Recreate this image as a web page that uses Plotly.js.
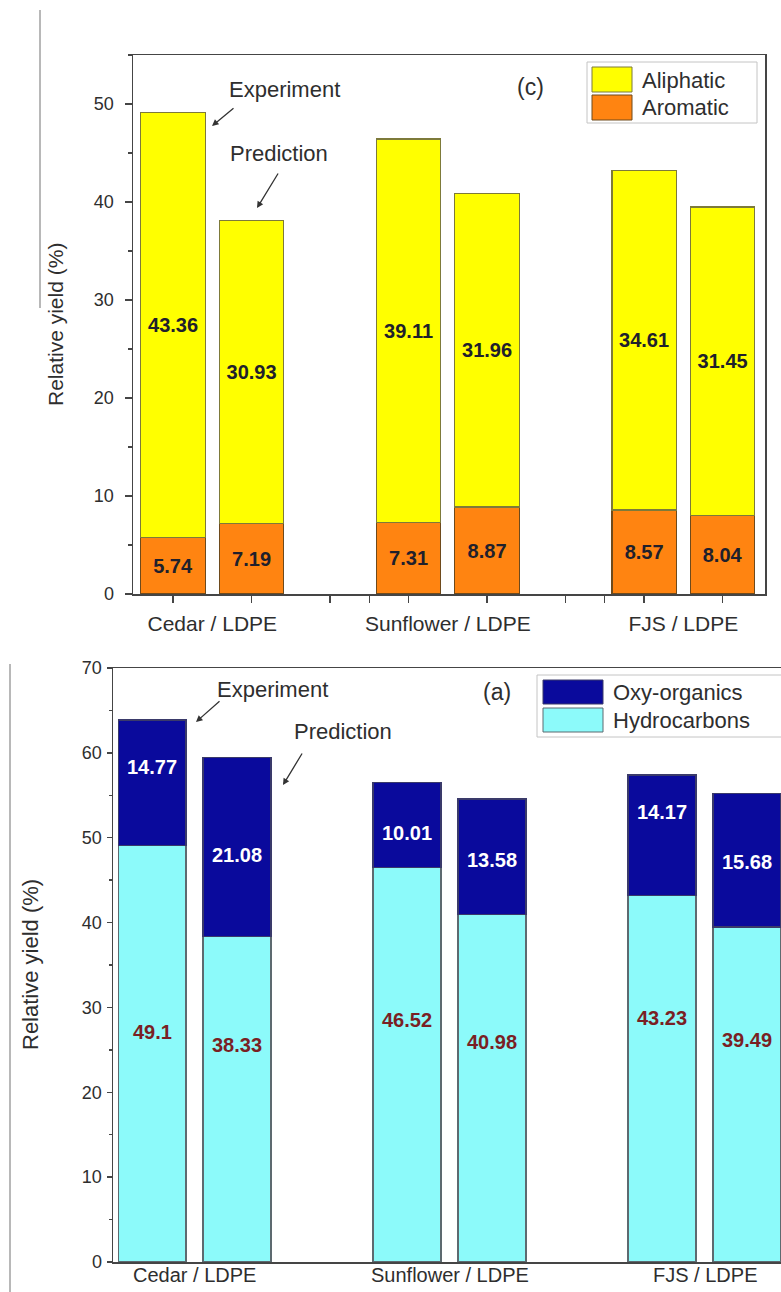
<!DOCTYPE html>
<html>
<head>
<meta charset="utf-8">
<script src="https://cdn.plot.ly/plotly-3.0.1.min.js"></script>
<style>
html,body{margin:0;padding:0;overflow:hidden;background:#fff;width:781px;height:1292px;}
#chart{width:800px;height:1292px;}
</style>
</head>
<body>
<div id="chart"></div>
<script>
// ---------- data ----------
const categories = ['Cedar / LDPE', 'Sunflower / LDPE', 'FJS / LDPE'];
// panel (c)
const aromaticExp   = [5.74, 7.31, 8.57];
const aromaticPred  = [7.19, 8.87, 8.04];
const aliphaticExp  = [43.36, 39.11, 34.61];
const aliphaticPred = [30.93, 31.96, 31.45];
// panel (a)
const hydroExp  = [49.1, 46.52, 43.23];
const hydroPred = [38.33, 40.98, 39.49];
const oxyExp    = [14.77, 10.01, 14.17];
const oxyPred   = [21.08, 13.58, 15.68];
const yTicksTop = [0, 10, 20, 30, 40, 50];
const yTicksBottom = [0, 10, 20, 30, 40, 50, 60, 70];

// ---------- helpers ----------
const W = 800, H = 1292;
const fx = p => p / W;
const fy = p => 1 - p / H;
const FONT = 'Liberation Sans, Arial, sans-serif';
const TXT = '#2e2e2e';

// experiment / prediction slots per category
const xPos = [];
categories.forEach((c, i) => { xPos.push(3 * i + 1, 3 * i + 2); });
const pair = (a, b) => { const out = []; a.forEach((v, i) => { out.push(v, b[i]); }); return out; };

const arom = pair(aromaticExp, aromaticPred);
const alip = pair(aliphaticExp, aliphaticPred);
const hydro = pair(hydroExp, hydroPred);
const oxy = pair(oxyExp, oxyPred);

const topLabelFont = {family: FONT, size: 20, color: '#20202c', weight: 'bold'};

const traces = [
  {type: 'bar', x: xPos, y: arom, width: 0.82, xaxis: 'x', yaxis: 'y',
   marker: {color: '#ff8411', line: {color: '#6e4a1c', width: 1.2}},
   text: arom.map(String), textposition: 'inside', insidetextanchor: 'middle',
   constraintext: 'none', textangle: 0, textfont: topLabelFont, hoverinfo: 'skip', showlegend: false},
  {type: 'bar', x: xPos, y: alip, width: 0.82, xaxis: 'x', yaxis: 'y',
   marker: {color: '#ffff00', line: {color: '#7d7a3a', width: 1.2}},
   text: alip.map(String), textposition: 'inside', insidetextanchor: 'middle',
   constraintext: 'none', textangle: 0, textfont: topLabelFont, hoverinfo: 'skip', showlegend: false},
  {type: 'bar', x: xPos, y: hydro, width: 0.8, xaxis: 'x2', yaxis: 'y2',
   marker: {color: '#8cfafa', line: {color: '#5d6a70', width: 1.2}},
   hoverinfo: 'skip', showlegend: false},
  {type: 'bar', x: xPos, y: oxy, width: 0.8, xaxis: 'x2', yaxis: 'y2',
   marker: {color: '#0a0a9c', line: {color: '#3a3a6a', width: 1.2}},
   hoverinfo: 'skip', showlegend: false}
];

// label placement for panel (a) (in axis units)
const hydroLabelY = [27.1, 25.6, 28.5, 25.9, 28.8, 26.2];
const oxyLabelY   = [58.3, 48.0, 50.6, 47.4, 53.0, 47.1];

const annotations = [];
hydro.forEach((v, i) => annotations.push({xref: 'x2', yref: 'y2', x: xPos[i], y: hydroLabelY[i],
  xanchor: 'center', yanchor: 'middle',
  text: String(v), showarrow: false, font: {family: FONT, size: 20, color: '#7a1f24', weight: 'bold'}}));
oxy.forEach((v, i) => annotations.push({xref: 'x2', yref: 'y2', x: xPos[i], y: oxyLabelY[i],
  xanchor: 'center', yanchor: 'middle',
  text: String(v), showarrow: false, font: {family: FONT, size: 20, color: '#ffffff', weight: 'bold'}}));

const txt = (t, px, py, size, extra) => Object.assign({xref: 'paper', yref: 'paper', x: fx(px), y: fy(py),
  xanchor: 'center', yanchor: 'middle',
  text: t, showarrow: false, font: {family: FONT, size: size, color: TXT}}, extra || {});
const arrow = (hx, hy, tx, ty) => ({xref: 'paper', yref: 'paper', x: fx(hx), y: fy(hy),
  axref: 'pixel', ayref: 'pixel', ax: tx - hx, ay: ty - hy, text: '', showarrow: true,
  arrowhead: 2, arrowsize: 1, arrowwidth: 1.3, arrowcolor: '#333'});

// panel (c) texts
annotations.push(txt('Experiment', 284, 89, 22));
annotations.push(txt('Prediction', 279, 153, 22));
annotations.push(txt('(c)', 530, 87, 23));
annotations.push(arrow(212, 126, 235, 107));
annotations.push(arrow(257, 208, 279, 172));
annotations.push(txt('Aliphatic', 640, 80, 22, {xanchor: 'left'}));
annotations.push(txt('Aromatic', 640, 108, 22, {xanchor: 'left'}));
annotations.push(txt('Relative yield (%)', 55, 325, 21, {textangle: -90}));
// panel (a) texts
annotations.push(txt('Experiment', 272, 690, 22));
annotations.push(txt('Prediction', 343, 731, 22));
annotations.push(txt('(a)', 497, 692, 23));
annotations.push(arrow(196, 722, 221, 700));
annotations.push(arrow(283, 785, 303, 752));
annotations.push(txt('Oxy-organics', 611, 692, 22, {xanchor: 'left'}));
annotations.push(txt('Hydrocarbons', 611, 720, 22, {xanchor: 'left'}));
annotations.push(txt('Relative yield (%)', 30, 965, 22, {textangle: -90}));
// category labels of panel (a), placed just above the page edge
categories.forEach((c, i) => annotations.push({xref: 'x2', yref: 'paper', x: 3 * i + 1.5, y: fy(1288),
  xanchor: 'center', yanchor: 'bottom', text: c, showarrow: false,
  font: {family: FONT, size: 20, color: TXT}}));

const rect = (x0, y0, x1, y1, fill, line) => ({type: 'rect', xref: 'paper', yref: 'paper',
  x0: fx(x0), x1: fx(x1), y0: fy(y1), y1: fy(y0), fillcolor: fill, line: {color: line, width: 1}});
const shapes = [
  rect(587, 62, 757, 123, 'rgba(0,0,0,0)', '#c4c4c4'),
  rect(592, 67, 632, 92, '#ffff00', '#7d7a3a'),
  rect(592, 95, 632, 120, '#ff8411', '#6e4a1c'),
  rect(537, 675, 805, 737, 'rgba(0,0,0,0)', '#c4c4c4'),
  rect(543, 680, 603, 704, '#0a0a9c', '#3a3a6a'),
  rect(543, 708, 603, 732, '#8cfafa', '#5d6a70'),
  {type: 'line', xref: 'paper', yref: 'paper', x0: fx(40), x1: fx(40), y0: fy(10), y1: fy(308), line: {color: '#a0a0a0', width: 1.5}},
  {type: 'line', xref: 'paper', yref: 'paper', x0: fx(10), x1: fx(10), y0: fy(664), y1: fy(1292), line: {color: '#a0a0a0', width: 1.5}}
];

const axisBase = {showline: true, linecolor: '#454545', linewidth: 1.5, mirror: true, showgrid: false, zeroline: false,
  tickfont: {family: FONT, size: 18, color: TXT}, fixedrange: true};

const layout = {
  width: W, height: H, margin: {l: 0, r: 0, t: 0, b: 0},
  paper_bgcolor: '#fff', plot_bgcolor: '#fff', barmode: 'stack', showlegend: false,
  font: {family: FONT},
  xaxis: Object.assign({}, axisBase, {domain: [fx(133), fx(765)], range: [0.49, 8.54], anchor: 'y',
    tickmode: 'array', tickvals: [1.5, 4.5, 7.5], ticktext: categories, ticks: '', ticklabelstandoff: 10,
    tickfont: {family: FONT, size: 21, color: TXT},
    minor: {tickmode: 'array', tickvals: [1, 2, 3, 3.5, 4, 5, 6, 6.5, 7, 8], ticks: 'outside', ticklen: 7, tickcolor: '#454545', tickwidth: 1.3}}),
  yaxis: Object.assign({}, axisBase, {domain: [fy(594), fy(55)], range: [0, 55], anchor: 'x',
    tickmode: 'array', tickvals: yTicksTop, ticks: 'outside', ticklen: 7, tickcolor: '#454545', tickwidth: 1.3, ticklabelstandoff: 7,
    minor: {dtick: 5, ticks: 'outside', ticklen: 4, tickcolor: '#454545'}}),
  xaxis2: Object.assign({}, axisBase, {domain: [fx(113), fx(798)], range: [0.54, 8.6], anchor: 'y2',
    showticklabels: false, ticks: ''}),
  yaxis2: Object.assign({}, axisBase, {domain: [fy(1262), fy(668)], range: [0, 70], anchor: 'x2',
    tickmode: 'array', tickvals: yTicksBottom, ticks: 'outside', ticklen: 5, tickcolor: '#454545', tickwidth: 1.3, ticklabelstandoff: 1,
    minor: {dtick: 5, ticks: 'outside', ticklen: 3, tickcolor: '#454545'}}),
  annotations: annotations,
  shapes: shapes
};

Plotly.newPlot('chart', traces, layout, {displayModeBar: false, staticPlot: true});
</script>
</body>
</html>
